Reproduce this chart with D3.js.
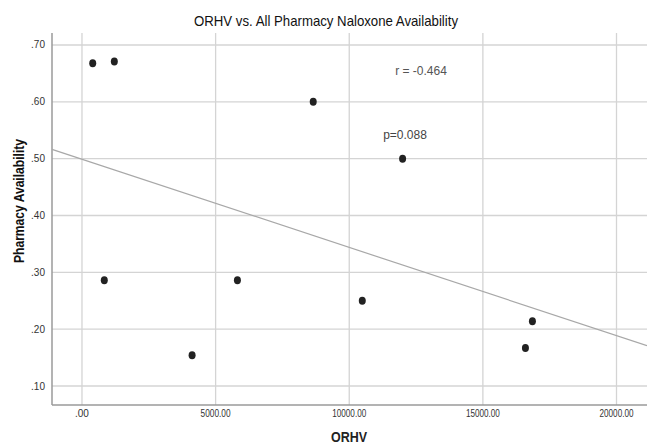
<!DOCTYPE html>
<html>
<head>
<meta charset="utf-8">
<script src="https://cdn.jsdelivr.net/npm/d3@7"></script>
<style>
  body { margin: 0; background: #fff; }
  svg { display: block; font-family: "Liberation Sans", Arial, sans-serif; }
</style>
</head>
<body>
<svg id="chart" width="647" height="446"></svg>
<script>
const width = 647;
const height = 446;

// values
const orhv = [401, 1210, 835, 4120, 5816, 8652, 10487, 11996, 16592, 16854];
const availability = [0.668, 0.671, 0.286, 0.154, 0.286, 0.600, 0.250, 0.500, 0.167, 0.214];
const xTicks = [0, 5000, 10000, 15000, 20000];
const yTicks = [0.1, 0.2, 0.3, 0.4, 0.5, 0.6, 0.7];
const statLabels = ["r = -0.464", "p=0.088"];

const plot = { left: 52, right: 647, top: 33, bottom: 405 };

const x = d3.scaleLinear().domain([-1122, 21141]).range([plot.left, plot.right]);
const y = d3.scaleLinear().domain([0.0666, 0.7211]).range([plot.bottom, plot.top]);

const svg = d3.select("#chart");

const fmt = d3.format(".2f");
const noZero = v => fmt(v).replace(/^0\./, ".");

// grid
svg.append("g")
  .selectAll("line")
  .data(yTicks)
  .join("line")
  .attr("x1", plot.left)
  .attr("x2", plot.right)
  .attr("y1", d => y(d))
  .attr("y2", d => y(d))
  .attr("stroke", "#d4d4d4")
  .attr("stroke-width", 1.3);

svg.append("g")
  .selectAll("line")
  .data(xTicks)
  .join("line")
  .attr("x1", d => x(d))
  .attr("x2", d => x(d))
  .attr("y1", plot.top)
  .attr("y2", plot.bottom)
  .attr("stroke", "#d4d4d4")
  .attr("stroke-width", 1.3);

// axis lines
svg.append("line")
  .attr("x1", plot.left).attr("x2", plot.left)
  .attr("y1", plot.top).attr("y2", plot.bottom)
  .attr("stroke", "#9a9a9a").attr("stroke-width", 1.5);
svg.append("line")
  .attr("x1", plot.left).attr("x2", plot.right)
  .attr("y1", plot.bottom).attr("y2", plot.bottom)
  .attr("stroke", "#9a9a9a").attr("stroke-width", 1.5);

// tick labels
svg.append("g")
  .selectAll("text")
  .data(yTicks)
  .join("text")
  .attr("x", 45)
  .attr("y", d => y(d) + 3.5)
  .attr("text-anchor", "end")
  .attr("font-size", 10)
  .attr("fill", "#333")
  .text(noZero);

svg.append("g")
  .selectAll("text")
  .data(xTicks)
  .join("text")
  .attr("x", d => x(d))
  .attr("y", 417)
  .attr("text-anchor", "middle")
  .attr("font-size", 10)
  .attr("textLength", d => d === 0 ? null : (d < 10000 ? 30 : 34))
  .attr("lengthAdjust", "spacingAndGlyphs")
  .attr("fill", "#333")
  .text(noZero);

// least squares fit line
const mx = d3.mean(orhv);
const my = d3.mean(availability);
const sxy = d3.sum(orhv, (v, i) => (v - mx) * (availability[i] - my));
const sxx = d3.sum(orhv, v => (v - mx) * (v - mx));
const slope = sxy / sxx;
const intercept = my - slope * mx;
const [x0, x1] = x.domain();

svg.append("line")
  .attr("x1", x(x0)).attr("y1", y(intercept + slope * x0))
  .attr("x2", x(x1)).attr("y2", y(intercept + slope * x1))
  .attr("stroke", "#a8a8a8")
  .attr("stroke-width", 1.2);

// points
svg.append("g")
  .selectAll("ellipse")
  .data(orhv)
  .join("ellipse")
  .attr("cx", d => x(d))
  .attr("cy", (d, i) => y(availability[i]))
  .attr("rx", 3.5)
  .attr("ry", 4)
  .attr("fill", "#222");

// annotations
svg.append("text")
  .attr("x", 421).attr("y", 75)
  .attr("text-anchor", "middle")
  .attr("font-size", 12)
  .attr("fill", "#555")
  .text(statLabels[0]);
svg.append("text")
  .attr("x", 405).attr("y", 139)
  .attr("text-anchor", "middle")
  .attr("font-size", 12)
  .attr("fill", "#444")
  .text(statLabels[1]);

// titles
svg.append("text")
  .attr("x", 326).attr("y", 26)
  .attr("text-anchor", "middle")
  .attr("font-size", 15)
  .attr("textLength", 264)
  .attr("lengthAdjust", "spacingAndGlyphs")
  .attr("fill", "#111")
  .text("ORHV vs. All Pharmacy Naloxone Availability");

svg.append("text")
  .attr("x", 349).attr("y", 442)
  .attr("text-anchor", "middle")
  .attr("font-size", 15)
  .attr("font-weight", "bold")
  .attr("textLength", 36)
  .attr("lengthAdjust", "spacingAndGlyphs")
  .attr("fill", "#222")
  .text("ORHV");

svg.append("text")
  .attr("transform", "translate(24,201) rotate(-90)")
  .attr("text-anchor", "middle")
  .attr("font-size", 15)
  .attr("font-weight", "bold")
  .attr("textLength", 124)
  .attr("lengthAdjust", "spacingAndGlyphs")
  .attr("fill", "#111")
  .text("Pharmacy Availability");
</script>
</body>
</html>
